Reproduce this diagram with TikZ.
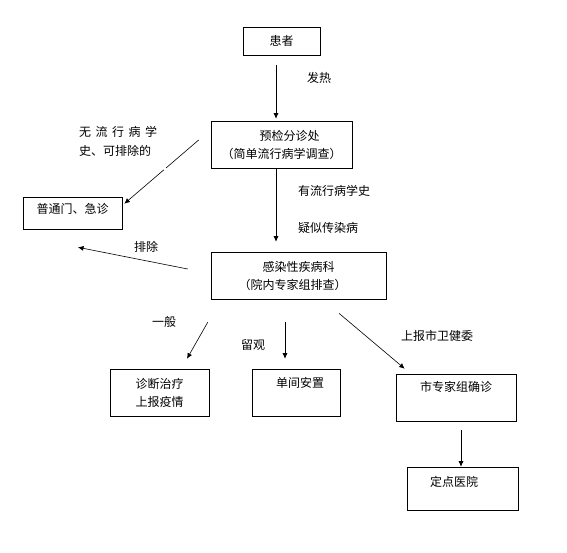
\documentclass[tikz,border=0pt]{standalone}
\usepackage{fontspec}
\setmainfont{Noto Sans CJK SC}
\usepackage{tikz}
\usetikzlibrary{arrows.meta}

\begin{document}
\begin{tikzpicture}[x=1pt, y=-1pt,
  blk/.style={draw, line width=0.6pt, align=center, inner sep=0pt,
              font=\fontsize{12}{18}\selectfont},
  upbox/.style={text height=10pt, text depth=#1},
  lbl/.style={font=\fontsize{12}{18}\selectfont, inner sep=0pt},
  arr/.style={-{Latex[length=5.5pt,width=5pt]}, line width=0.6pt}]
\useasboundingbox[fill=white] (0,0) rectangle (567,552);
\node[blk, minimum width=77pt, minimum height=28pt] (pat) at (281.5,41) {患者};
\node[blk, minimum width=141pt, minimum height=47pt] (pre) at (281.5,144.5)
  {\hspace*{16pt}预检分诊处\\（简单流行病学调查）};
\node[blk, upbox=8.8pt, minimum width=99pt, minimum height=32pt] (gen) at (72.5,213) {普通门、急诊};
\node[blk, minimum width=175pt, minimum height=47pt] (inf) at (298.5,275.5)
  {感染性疾病科\\（院内专家组排查）\hspace*{12pt}};
\node[blk, minimum width=99pt, minimum height=47pt] (trt) at (159.5,392.5) {诊断治疗\\上报疫情};
\node[blk, upbox=19.8pt, minimum width=88pt, minimum height=47pt] (iso) at (296,392.5)
  {\hspace*{8pt}单间安置};
\node[blk, upbox=21.8pt, minimum width=120pt, minimum height=47pt] (cty) at (456,397.5) {市专家组确诊};
\node[blk, upbox=13.8pt, minimum width=111pt, minimum height=43pt] (hsp) at (462.5,488.5)
  {定点医院\hspace*{17pt}};
% labels
\node[lbl] (fr) at (319,78) {发热};
\node[lbl, align=left, anchor=north west, font=\fontsize{12}{19}\selectfont] (no) at (79,126)
  {无\hspace{4.5pt}流\hspace{4.5pt}行\hspace{4.5pt}病\hspace{4.5pt}学\\史、可排除的};
\node[lbl] (yes) at (334,191) {有流行病学史};
\node[lbl] (sus) at (328,228) {疑似传染病};
\node[lbl] (ex) at (146,247) {排除};
\node[lbl] (yb) at (164,322) {一般};
\node[lbl] (lg) at (253,345) {留观};
\node[lbl] (sb) at (437,336) {上报市卫健委};
% arrows
\draw[arr] ([shift={(-5.5,10)}]pat.south) -- ([shift={(-5.5,-2)}]pre.north);
\draw[arr, dash pattern=on 43pt off 3pt on 200pt] ([shift={(-12,-4.5)}]pre.west) -- ([shift={(2,7)}]gen.north east);
\draw[arr] ([shift={(-5.5,0)}]pre.south) -- ([shift={(-22.5,-10)}]inf.north);
\draw[arr] ([shift={(-23,-6.5)}]inf.west) -- ([shift={(5.5,18)}]gen.south);
\draw[arr] ([shift={(-3,23)}]inf.south west) -- ([shift={(27.5,-10)}]trt.north);
\draw[arr] ([shift={(-13.5,23)}]inf.south) -- ([shift={(-11,-10)}]iso.north);
\draw[arr] ([shift={(40.5,14)}]inf.south) -- ([shift={(9,-5)}]cty.north west);
\draw[arr] ([shift={(5,9)}]cty.south) -- ([shift={(-1.5,0)}]hsp.north);
\end{tikzpicture}
\end{document}
